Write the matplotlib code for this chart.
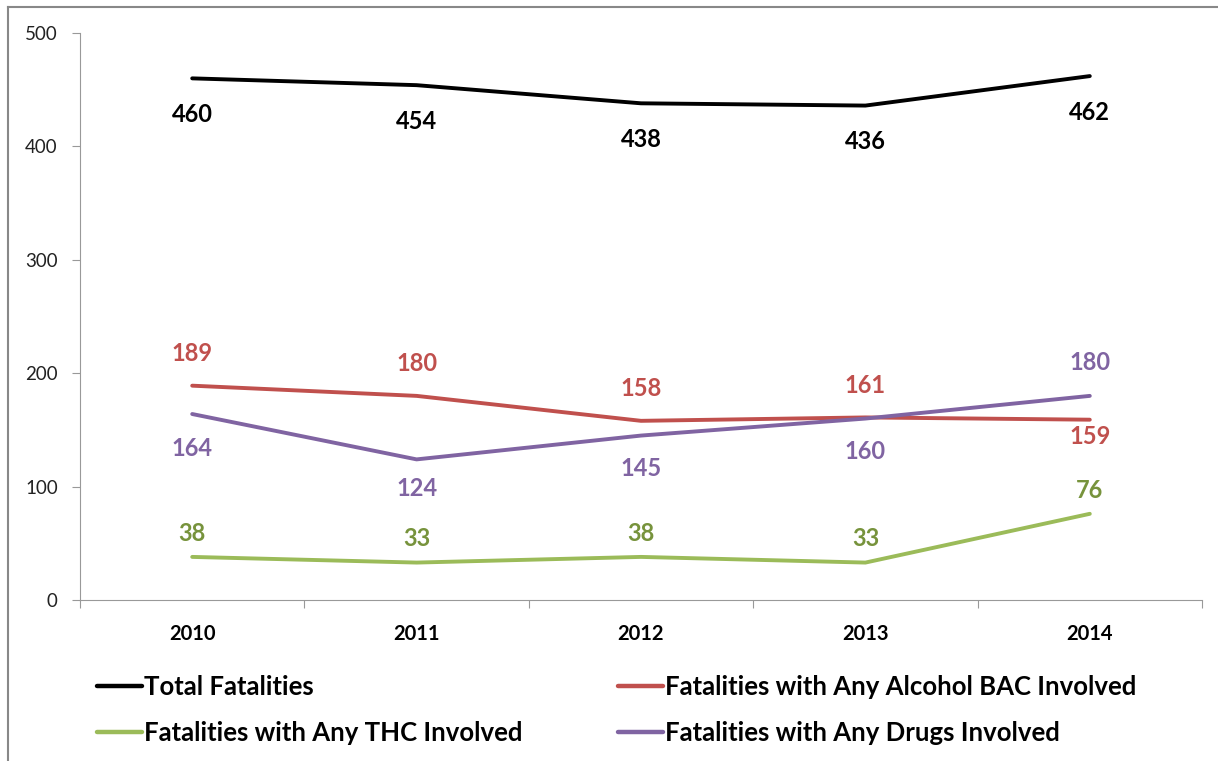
import matplotlib.pyplot as plt
from matplotlib.lines import Line2D

years = ["2010", "2011", "2012", "2013", "2014"]
total = [460, 454, 438, 436, 462]
alcohol = [189, 180, 158, 161, 159]
thc = [38, 33, 38, 33, 76]
drugs = [164, 124, 145, 160, 180]

# label offsets (points, + above / - below the line)
total_off = [-26, -26, -26, -26, -26]
alcohol_off = [23, 23, 23, 23, -12]
thc_off = [17, 17, 17, 17, 17]
drugs_off = [-25, -21, -24, -24, 24]

plt.rcParams['font.family'] = ['Lato', 'DejaVu Sans']

fig = plt.figure(figsize=(12.18, 7.61), dpi=100)
ax = fig.add_axes([80 / 1218, 1 - 600 / 761, 1122 / 1218, 567 / 761])

x = list(range(len(years)))
series = [
    ("Total Fatalities", total, "black", "black", total_off),
    ("Fatalities with Any Alcohol BAC Involved", alcohol, "#C0504D", "#C0504D", alcohol_off),
    ("Fatalities with Any THC Involved", thc, "#9BBB59", "#77933C", thc_off),
    ("Fatalities with Any Drugs Involved", drugs, "#8064A2", "#8064A2", drugs_off),
]

handles = {}
for name, vals, col, lcol, offs in series:
    ln, = ax.plot(x, vals, color=col, lw=2.8, solid_capstyle='round')
    handles[name] = ln
    for xi, v, o in zip(x, vals, offs):
        ax.annotate(str(v), (xi, v), xytext=(0, o), textcoords='offset points',
                    ha='center', va='center', fontsize=17, fontweight='bold', color=lcol)

ax.set_xlim(-0.5, 4.5)
ax.set_ylim(0, 500)
ax.set_yticks([0, 100, 200, 300, 400, 500])
ax.tick_params(axis='y', labelsize=13.5, colors='#999999', labelcolor='#222222', length=6, pad=10)
ax.set_xticks([i - 0.5 for i in range(len(years) + 1)])
ax.set_xticklabels([])
ax.set_xticks(x, minor=True)
ax.set_xticklabels(years, minor=True, fontweight='bold', fontsize=14.5)
ax.tick_params(axis='x', which='major', length=6, colors='#999999')
ax.tick_params(axis='x', which='minor', length=0, pad=17)
for sp in ['top', 'right']:
    ax.spines[sp].set_visible(False)
for sp in ['left', 'bottom']:
    ax.spines[sp].set_color('#999999')

order = ["Total Fatalities", "Fatalities with Any THC Involved",
         "Fatalities with Any Alcohol BAC Involved", "Fatalities with Any Drugs Involved"]
leg = fig.legend([handles[n] for n in order], order, ncol=2, loc='upper left',
                 bbox_to_anchor=(84 / 1218, 1 - 662 / 761), frameon=False, borderpad=0,
                 prop={'weight': 'bold', 'size': 18.5}, handlelength=1.75, handletextpad=0.1,
                 columnspacing=3.7, labelspacing=0.85)
for h in leg.legend_handles:
    h.set_linewidth(3.2)

fig.add_artist(Line2D([8 / 1218, 8 / 1218], [0, 1 - 7 / 761], color='#888888', lw=1.5))
fig.add_artist(Line2D([8 / 1218, 1], [1 - 7 / 761, 1 - 7 / 761], color='#888888', lw=1.5))

fig.savefig("out.png", dpi=100)
